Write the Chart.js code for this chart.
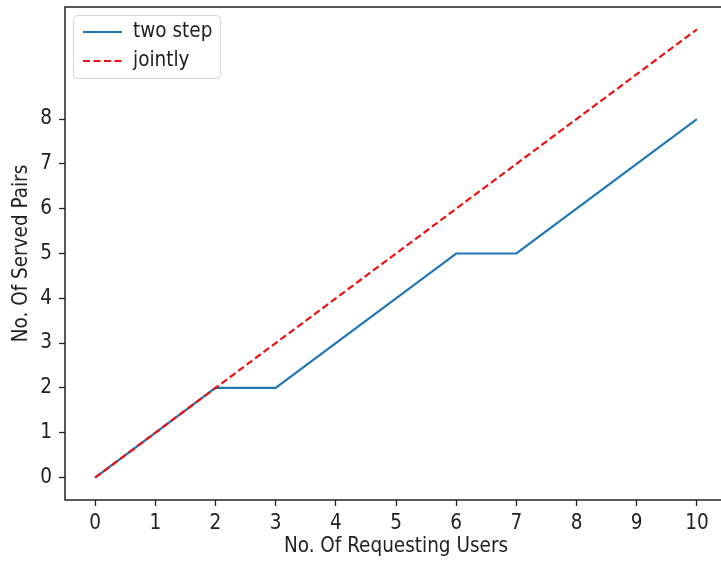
<!DOCTYPE html>
<html>
<head>
<meta charset="utf-8">
<script src="https://cdn.jsdelivr.net/npm/chart.js@4/dist/chart.umd.min.js"></script>
<style>
  html, body { margin: 0; padding: 0; background: #fff; overflow: hidden; }
  #wrap { position: absolute; left: 0; top: 0; width: 760px; height: 567px; }
</style>
</head>
<body>
<div id="wrap"><canvas id="chart"></canvas></div>
<script>
const users = [0, 1, 2, 3, 4, 5, 6, 7, 8, 9, 10];
const twoStep = [0, 1, 2, 2, 3, 4, 5, 5, 6, 7, 8];
const jointly = [0, 1, 2, 3, 4, 5, 6, 7, 8, 9, 10];
const xTicks = [0, 1, 2, 3, 4, 5, 6, 7, 8, 9, 10];
const yTicks = [0, 1, 2, 3, 4, 5, 6, 7, 8];

const font = "'DejaVu Sans Condensed', 'DejaVu Sans', sans-serif";
const fontSize = 20.5;
const ink = "#222";

const toPoints = (ys) => users.map((x, i) => ({ x: x, y: ys[i] }));

// matplotlib style box round the axes
const frame = {
  id: "frame",
  afterDraw(chart) {
    const { ctx, chartArea: a } = chart;
    ctx.save();
    ctx.strokeStyle = ink;
    ctx.lineWidth = 1.5;
    ctx.strokeRect(a.left, a.top, a.right - a.left, a.bottom - a.top);
    ctx.restore();
  },
};

// legend drawn inside the plot, upper left
const innerLegend = {
  id: "innerLegend",
  afterDraw(chart) {
    const { ctx, chartArea: a } = chart;
    const x = a.left + 8, y = a.top + 8, w = 147, h = 63;
    ctx.save();
    ctx.fillStyle = "rgba(255,255,255,0.8)";
    ctx.strokeStyle = "#d6d6d6";
    ctx.lineWidth = 1;
    ctx.beginPath();
    ctx.roundRect(x + 0.5, y + 0.5, w, h, 4);
    ctx.fill();
    ctx.stroke();
    ctx.font = fontSize + "px " + font;
    ctx.textBaseline = "middle";
    chart.data.datasets.forEach((ds, i) => {
      const ly = y + 17 + i * 29;
      ctx.strokeStyle = ds.borderColor;
      ctx.lineWidth = ds.borderWidth;
      ctx.setLineDash(ds.borderDash || []);
      ctx.beginPath();
      ctx.moveTo(x + 10, ly);
      ctx.lineTo(x + 49, ly);
      ctx.stroke();
      ctx.setLineDash([]);
      ctx.fillStyle = ink;
      ctx.fillText(ds.label, x + 60, ly);
    });
    ctx.restore();
  },
};

new Chart(document.getElementById("chart"), {
  type: "line",
  data: {
    datasets: [
      {
        label: "two step",
        data: toPoints(twoStep),
        borderColor: "#1f77b4",
        borderWidth: 2.2,
        pointRadius: 0,
        tension: 0,
        order: 1,
      },
      {
        label: "jointly",
        data: toPoints(jointly),
        borderColor: "#ee1111",
        borderWidth: 2.2,
        borderDash: [7, 3.5],
        pointRadius: 0,
        tension: 0,
        order: 0,
      },
    ],
  },
  options: {
    responsive: true,
    maintainAspectRatio: false,
    animation: false,
    layout: { padding: { top: 7, right: 33, left: 0, bottom: 0 } },
    plugins: {
      legend: { display: false },
      tooltip: { enabled: false },
    },
    scales: {
      x: {
        type: "linear",
        min: -0.5,
        max: 10.5,
        afterBuildTicks: (axis) => { axis.ticks = xTicks.map((v) => ({ value: v })); },
        afterFit: (axis) => { axis.height = 67; },
        grid: { drawOnChartArea: false, drawTicks: true, tickLength: 6, color: ink, tickWidth: 1.3 },
        border: { display: false },
        ticks: { color: ink, font: { family: font, size: fontSize }, padding: 5, maxRotation: 0 },
        title: {
          display: true,
          text: "No. Of Requesting Users",
          color: ink,
          font: { family: font, size: fontSize },
          padding: { top: 0, bottom: 8 },
        },
      },
      y: {
        type: "linear",
        min: -0.5,
        max: 10.5,
        afterBuildTicks: (axis) => { axis.ticks = yTicks.map((v) => ({ value: v })); },
        afterFit: (axis) => {
          axis.width = 65;
          axis.paddingTop = 0;
          axis.paddingBottom = 0;
        },
        grid: { drawOnChartArea: false, drawTicks: true, tickLength: 6, color: ink, tickWidth: 1.3 },
        border: { display: false },
        ticks: { color: ink, font: { family: font, size: fontSize }, padding: 7 },
        title: {
          display: true,
          text: "No. Of Served Pairs",
          color: ink,
          font: { family: font, size: fontSize },
          padding: { top: 9, bottom: 0 },
        },
      },
    },
  },
  plugins: [frame, innerLegend],
});
</script>
</body>
</html>
